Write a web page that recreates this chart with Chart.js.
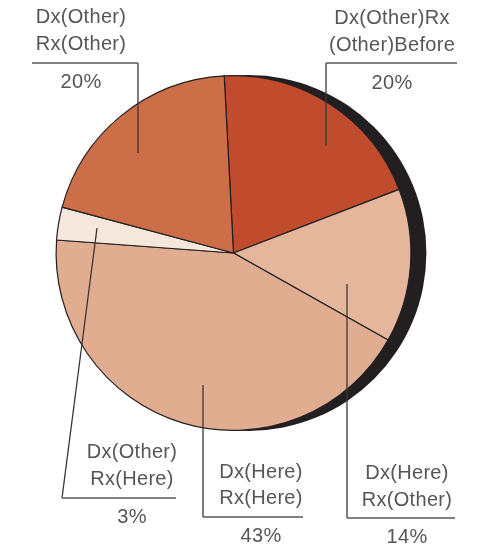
<!DOCTYPE html>
<html>
<head>
<meta charset="utf-8">
<script src="https://cdn.jsdelivr.net/npm/chart.js@4"></script>
<style>
  html, body { margin: 0; padding: 0; background: #fff; }
  #wrap { width: 487px; height: 550px; }
</style>
</head>
<body>
<div id="wrap"><canvas id="chart"></canvas></div>
<script>
// data (clockwise from the top)
const categories = ['Dx(Other)Rx(Other)Before', 'Dx(Here)Rx(Other)', 'Dx(Here)Rx(Here)', 'Dx(Other)Rx(Here)', 'Dx(Other)Rx(Other)'];
const labelLines = [['Dx(Other)Rx', '(Other)Before'], ['Dx(Here)', 'Rx(Other)'], ['Dx(Here)', 'Rx(Here)'], ['Dx(Other)', 'Rx(Here)'], ['Dx(Other)', 'Rx(Other)']];
const shares = [20, 14, 43, 3, 20];
const sliceColors = ['#C04C2D', '#E4B69B', '#E1AD90', '#F6E7DD', '#CC6E48'];

// where each callout sits (text centre, baselines, underline, leader end)
const callouts = [
    { cx: 392, lines: [24, 51], ul: { y: 63, x1: 326, x2: 457 }, pct: 89, leader: [326, 63, 326, 146] },
    { cx: 407, lines: [479, 506], ul: { y: 518, x1: 347, x2: 455 }, pct: 543, leader: [347, 518, 347, 284] },
    { cx: 261, lines: [478, 504], ul: { y: 517, x1: 203, x2: 303 }, pct: 542, leader: [203, 517, 203, 385] },
    { cx: 132, lines: [458, 485], ul: { y: 498, x1: 62, x2: 176 }, pct: 523, leader: [62, 498, 97, 228] },
    { cx: 81, lines: [23, 50], ul: { y: 63, x1: 32, x2: 138 }, pct: 88, leader: [138, 63, 138, 153] }
];

const shadowPlugin = {
    id: 'shadow',
    beforeDatasetsDraw(chart) {
        const arc = chart.getDatasetMeta(0).data[0];
        if (!arc) return;
        const ctx = chart.ctx;
        ctx.save();
        ctx.fillStyle = '#231F20';
        ctx.beginPath();
        ctx.arc(arc.x + 15, arc.y, arc.outerRadius + 0.5, 0, Math.PI * 2);
        ctx.fill();
        ctx.restore();
    }
};

const calloutPlugin = {
    id: 'callouts',
    afterDatasetsDraw(chart) {
        const ctx = chart.ctx;
        ctx.save();
        ctx.font = '20px "Liberation Sans", Arial, sans-serif';
        ctx.letterSpacing = '0.3px';
        ctx.textAlign = 'center';
        ctx.textBaseline = 'alphabetic';
        callouts.forEach((c, i) => {
            // leader line
            ctx.strokeStyle = '#3A3637';
            ctx.lineWidth = 1.3;
            ctx.beginPath();
            ctx.moveTo(c.leader[0], c.leader[1]);
            ctx.lineTo(c.leader[2], c.leader[3]);
            ctx.stroke();
            // underline
            ctx.strokeStyle = '#58595B';
            ctx.lineWidth = 1.6;
            ctx.beginPath();
            ctx.moveTo(c.ul.x1, c.ul.y);
            ctx.lineTo(c.ul.x2, c.ul.y);
            ctx.stroke();
            ctx.fillStyle = '#555658';
            labelLines[i].forEach((t, j) => ctx.fillText(t, c.cx, c.lines[j]));
            ctx.fillText(shares[i] + '%', c.cx, c.pct);
        });
        ctx.restore();
    }
};

new Chart(document.querySelector('#chart').getContext('2d'), {
    type: 'pie',
    data: {
        labels: categories,
        datasets: [{
            data: shares,
            backgroundColor: sliceColors,
            borderColor: '#231F20',
            borderWidth: 1.2
        }]
    },
    options: {
        responsive: true,
        maintainAspectRatio: false,
        animation: false,
        rotation: -3,
        layout: { padding: { left: 55, right: 75, top: 75, bottom: 119 } },
        plugins: {
            legend: { display: false },
            tooltip: { enabled: false }
        }
    },
    plugins: [shadowPlugin, calloutPlugin]
});
</script>
</body>
</html>
